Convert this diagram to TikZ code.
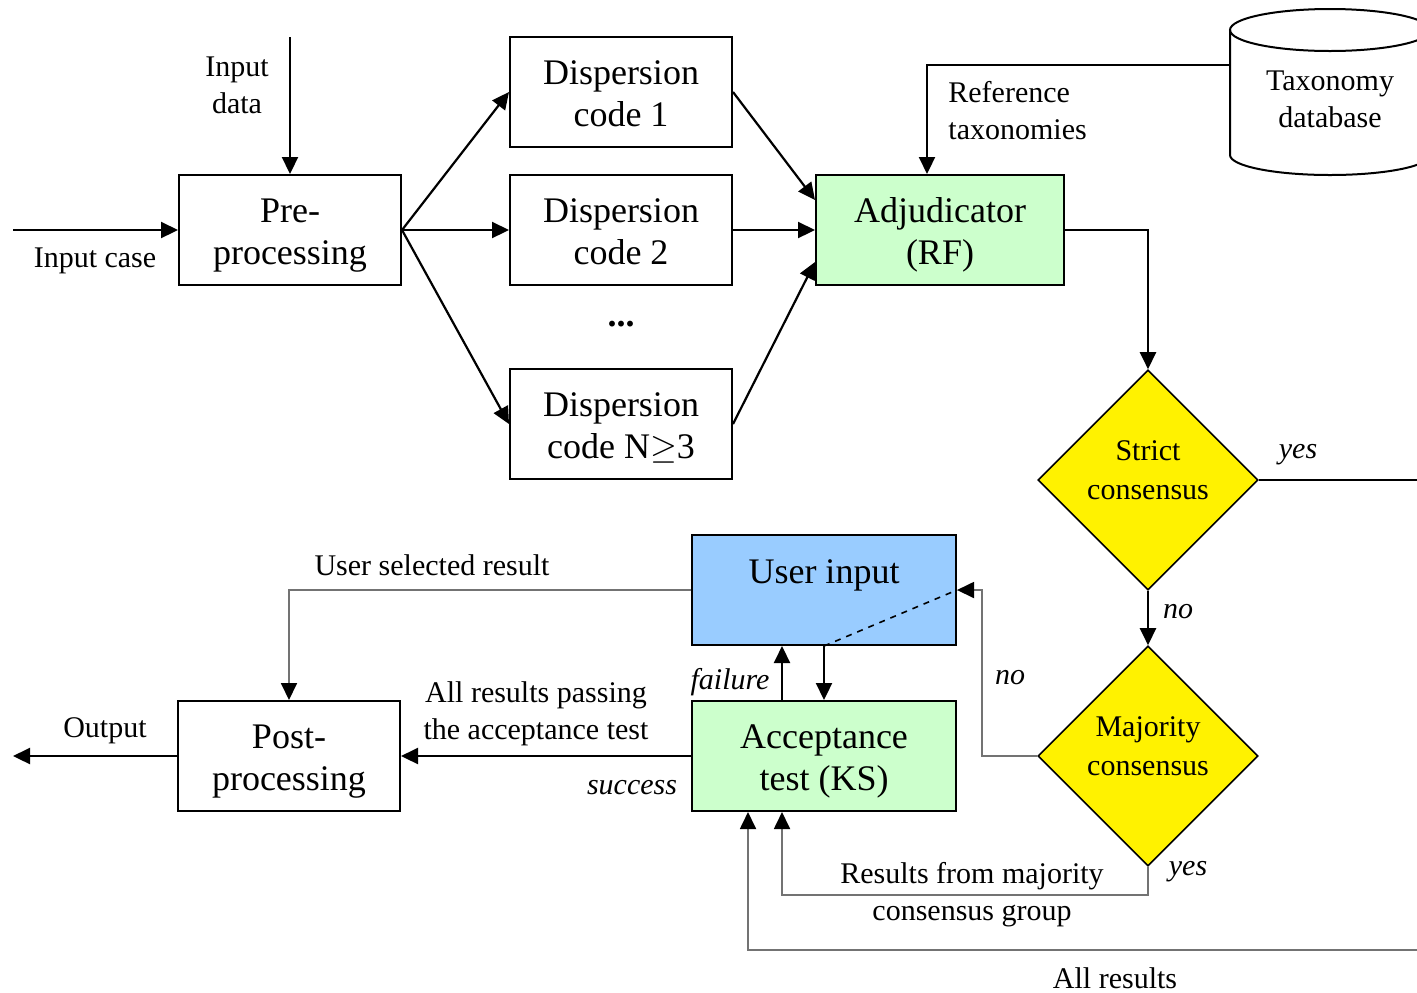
\documentclass[tikz,border=0pt]{standalone}
\usepackage{fontspec}
\setmainfont{Liberation Serif}
\usetikzlibrary{arrows.meta,shapes.geometric}

\definecolor{passgreen}{HTML}{CCFFCC}
\definecolor{userblue}{HTML}{99CCFF}

\begin{document}
\begin{tikzpicture}[x=0.5pt, y=-0.5pt,
  block/.style={draw, line width=1pt, minimum width=111pt, minimum height=55pt,
    inner sep=0pt, align=center, text height=34pt, text depth=0pt,
    font=\fontsize{18}{21}\selectfont},
  decision/.style={diamond, draw, line width=0.8pt, fill=yellow, minimum width=110pt,
    minimum height=110pt, inner sep=0pt, align=center, text depth=10pt,
    font=\fontsize{15}{19.5}\selectfont},
  tag/.style={align=center, inner sep=0pt, font=\fontsize{15}{18.5}\selectfont},
  answer/.style={inner sep=0pt, font=\fontsize{15}{18}\selectfont\itshape},
  flow/.style={line width=1.1pt, -{Triangle[length=8.5pt, width=8pt]}},
  wire/.style={line width=0.9pt, draw=black!55, -{Triangle[length=8.5pt, width=8pt, color=black]}}]
\useasboundingbox (0,0) rectangle (1417,992);

% pipeline
\node[block] (pre) at (290,230) {Pre-\\processing};
\node[block] (disp1) at (621,92) {Dispersion\\code 1};
\node[block] (disp2) at (621,230) {Dispersion\\code 2};
\node[block] (dispN) at (621,424) {Dispersion\\code N$\geq$3};
\node[font=\fontsize{18}{21}\selectfont\bfseries] (dots) at (621,324) {...};
\node[block, fill=passgreen, minimum width=124pt] (adj) at (940,230) {Adjudicator\\(RF)};

% taxonomy database
\draw[line width=1pt, fill=white] (1230,30) -- (1230,155)
  arc[start angle=180, end angle=360, x radius=50pt, y radius=10pt] -- (1430,30);
\draw[line width=1pt] (1330,30) ellipse[x radius=50pt, y radius=10.5pt];
\node[tag, minimum width=100pt, minimum height=60pt] (taxdb) at (1330,99) {Taxonomy\\database};

% decisions
\node[decision] (strict) at (1148,480) {Strict\\consensus};
\node[decision] (major) at (1148,756) {Majority\\consensus};

% lower row
\node[block, fill=userblue, minimum width=132pt, text height=12.3pt, text depth=19pt] (user) at (824,590) {User input};
\node[block, fill=passgreen, minimum width=132pt] (accept) at (824,756) {Acceptance\\test (KS)};
\node[block] (post) at (289,756) {Post-\\processing};

\coordinate (datain) at (290,37);
\coordinate (casein) at (13,230);
\coordinate (out) at (13,756);
\coordinate (yesend) at (1417,480);
\coordinate (allin) at (1417,950);

% connectors
\draw[flow] (datain) -- (pre.north);
\draw[flow] (casein) -- (pre.west);
\draw[flow] (pre.east) -- (disp1.west);
\draw[flow] (pre.east) -- (disp2.west);
\draw[flow] (pre.east) -- (dispN.west);
\draw[flow] (disp1.east) -- ([yshift=15pt]adj.west);
\draw[flow] (disp2.east) -- (adj.west);
\draw[flow] (dispN.east) -- ([yshift=-16pt]adj.west);
\draw[flow] ([yshift=17pt]taxdb.west) -| ([xshift=-6.5pt]adj.north);
\draw[flow] (adj.east) -| (strict.north);
\draw[line width=1.1pt] (strict.east) -- (yesend);
\draw[flow] (strict.south) -- (major.north);
\draw[wire] (major.west) -- ++(-55,0) |- (user.east);
\draw[dashed, line width=0.8pt] (user.south) -- (user.east);
\draw[flow] (user.south) -- (accept.north);
\draw[flow] ([xshift=-21pt]accept.north) -- ([xshift=-21pt]user.south);
\draw[wire] (user.west) -| (post.north);
\draw[flow] (accept.west) -- (post.east);
\draw[flow] (post.west) -- (out);
\draw[wire] (major.south) -- ++(0,28) -| ([xshift=-21pt]accept.south);
\draw[wire] (allin) -| ([xshift=-38pt]accept.south);

% labels
\node[tag] (lbldata) at (237,85) {Input\\data};
\node[tag] (lblcase) at (95,261) {Input case};
\node[tag, anchor=west, align=left] (lblref) at (948,111) {Reference\\taxonomies};
\node[answer] (lblyes1) at (1298,455) {yes};
\node[answer] (lblno1) at (1178,612) {no};
\node[answer] (lblno2) at (1010,678) {no};
\node[answer] (lblyes2) at (1188,872) {yes};
\node[tag] (lblmajor) at (972,895) {Results from majority\\consensus group};
\node[tag] (lblall) at (1115,978) {All results};
\node[answer] (lblfail) at (730,682) {failure};
\node[answer] (lblsucc) at (632,788) {success};
\node[tag] (lblpass) at (536,714) {All results passing\\the acceptance test};
\node[tag] (lblsel) at (432,565) {User selected result};
\node[tag] (lblout) at (105,731) {Output};
\end{tikzpicture}
\end{document}
